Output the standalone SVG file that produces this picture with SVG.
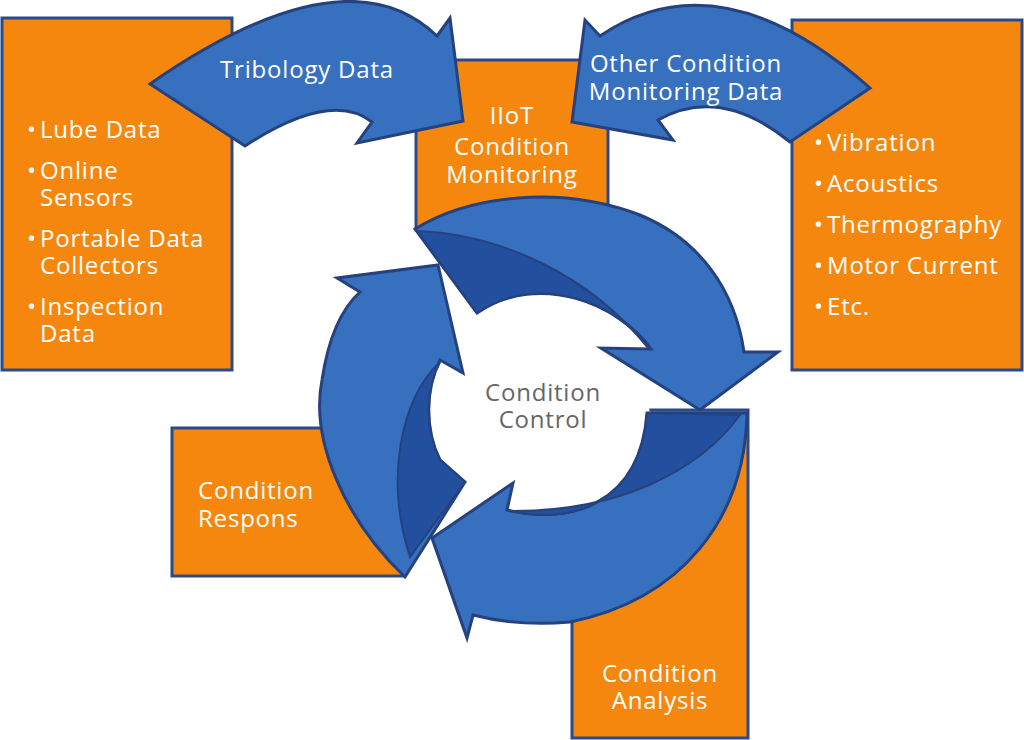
<svg xmlns="http://www.w3.org/2000/svg" width="1024" height="740" viewBox="0 0 1024 740">
<style>
.box{fill:#f5870e;stroke:#2b4a8c;stroke-width:3}
.arr{fill:#3670be;stroke:#25427f;stroke-width:3;stroke-linejoin:miter}
.face{fill:#23509e;stroke:#25427f;stroke-width:2}
.t{font-family:"Open Sans","Liberation Sans",sans-serif;font-size:24px;letter-spacing:0.8px;fill:#fff}
.c{text-anchor:middle}
.g{fill:#666}
</style>
<rect width="1024" height="740" fill="#fff"/>
<g id="lube"><rect class="box" x="2" y="18" width="230" height="352"/>
<text class="t" x="27" y="138">•</text><text class="t" x="40" y="138">Lube Data</text>
<text class="t" x="27" y="179">•</text><text class="t" x="40" y="179">Online</text><text class="t" x="40" y="206">Sensors</text>
<text class="t" x="27" y="247">•</text><text class="t" x="40" y="247">Portable Data</text><text class="t" x="40" y="274">Collectors</text>
<text class="t" x="27" y="315">•</text><text class="t" x="40" y="315">Inspection</text><text class="t" x="40" y="342">Data</text></g>
<g id="iiot"><rect class="box" x="416" y="60" width="192" height="170"/>
<text class="t c" x="512" y="124">IIoT</text><text class="t c" x="512" y="155">Condition</text><text class="t c" x="512" y="183">Monitoring</text></g>
<g id="other"><rect class="box" x="792" y="20" width="230" height="350"/>
<text class="t" x="814" y="151">•</text><text class="t" x="827" y="151">Vibration</text>
<text class="t" x="814" y="192">•</text><text class="t" x="827" y="192">Acoustics</text>
<text class="t" x="814" y="233">•</text><text class="t" x="827" y="233">Thermography</text>
<text class="t" x="814" y="274">•</text><text class="t" x="827" y="274">Motor Current</text>
<text class="t" x="814" y="315">•</text><text class="t" x="827" y="315">Etc.</text></g>
<g id="respons"><rect class="box" x="172" y="428" width="230" height="148"/>
<text class="t" x="198" y="499">Condition</text><text class="t" x="198" y="527">Respons</text></g>
<g id="analysis"><rect class="box" x="572" y="410" width="176" height="328"/>
<text class="t c" x="660" y="682">Condition</text><text class="t c" x="660" y="709">Analysis</text></g>
<ellipse cx="540" cy="420" rx="110" ry="100" fill="#fff"/>
<path d="M572,420 L572,560 L640,560 L648,412 Z" fill="#fff"/>
<g id="connectors">
<path class="arr" d="M150,84 Q346,-52 437,36 L450,18 L463,121 L357,143 L372,122 Q331,90 245,146 Z"/>
<path class="arr" d="M870,88 Q720,-45 600,36 L585,20 L572,122 L673,140 L658,120 Q720,85 790,142 Z"/>
<path class="arr" d="M415,229 C470,195 560,185 640,215 C700,240 735,290 744,352 L778,352 L700,410 L601,348 L651,349 C620,305 540,270 477,313 Z"/>
<path class="face" d="M417,231 C500,234 590,275 648,348 C620,305 540,270 477,313 Z"/>
<path class="arr" d="M405,577 C345,520 310,440 322,380 C328,340 340,310 360,292 L337,278 L438,265 L463,373 L440,360 C425,390 425,430 440,460 L465,482 Z"/>
<path class="face" d="M440,362 C400,400 385,480 410,557 L465,482 L440,460 C425,430 425,390 440,362 Z"/>
<path class="arr" d="M747,413 C745,520 680,600 570,622 C535,625 500,622 473,615 L467,638 L432,538 L513,483 L507,510 C570,525 640,505 647,413 Z"/>
<path class="face" d="M740,415 C700,470 620,512 510,511 C570,525 640,505 647,413 Z"/>
</g>
<g id="labels">
<text class="t c" x="307" y="78">Tribology Data</text>
<text class="t c" x="686" y="72">Other Condition</text><text class="t c" x="686" y="100">Monitoring Data</text>
<text class="t c g" x="543" y="401">Condition</text><text class="t c g" x="543" y="428">Control</text>
</g>
</svg>
